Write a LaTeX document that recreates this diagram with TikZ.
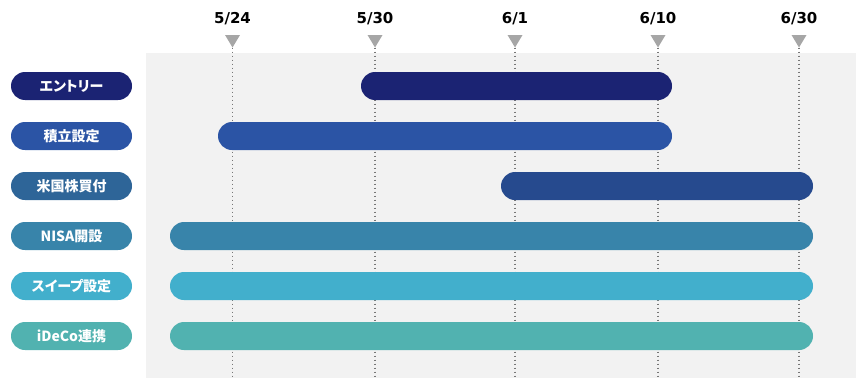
\documentclass[tikz,border=0pt]{standalone}
\usepackage{fontspec}
\setmainfont{DejaVu Sans}
\newfontfamily\jpfont[RawFeature=+palt]{Noto Sans CJK JP}
\usetikzlibrary{positioning,calc}
\usepackage{xcolor}
\definecolor{SchedBg}{HTML}{F2F2F2}
\definecolor{SchedTick}{HTML}{A6A6A6}
\definecolor{SchedGuide}{HTML}{777777}
\definecolor{SchedNavy}{HTML}{1B2373}
\definecolor{SchedRoyal}{HTML}{2B54A5}
\definecolor{SchedSteel}{HTML}{2E6598}
\definecolor{SchedSteelBar}{HTML}{264A8E}
\definecolor{SchedOcean}{HTML}{3884AA}
\definecolor{SchedSky}{HTML}{42AFCC}
\definecolor{SchedTeal}{HTML}{51B2B0}

\begin{document}
\begin{tikzpicture}[x=1pt,y=-1pt, every node/.style={inner sep=0pt,outer sep=0pt},
    datelabel/.style={font=\bfseries\fontsize{15}{15}\selectfont,anchor=base},
    pill/.style={rounded corners=14pt,minimum height=28pt,minimum width=121pt,text=white,font=\jpfont\bfseries\fontsize{14}{14}\selectfont},
    bar/.style={rounded corners=14pt,minimum height=28pt}]
    \useasboundingbox (0,0) rectangle (866,388);
    \fill[SchedBg] (146,53) rectangle (856,378);
    % date ticks
    \foreach \x/\t [count=\i] in {232.5/{5/24},375/{5/30},515/{6/1},658/{6/10},799/{6/30}}{
      \node[datelabel] (date\i) at (\x,23.3) {\t};
      \coordinate (tip\i) at (\x,47.5);
      \coordinate (foot\i) at (\x,378);
      \fill[SchedTick] (tip\i) -- ++(-7.5,-12.5) -- ++(15,0) -- cycle;
      \draw[SchedGuide,line width=1.8pt,dash pattern=on 1.8pt off 2.2pt] (tip\i) -- (foot\i);
    }
    % task rows
    \foreach \lab/\col/\barcol/\s/\e [count=\i] in {
        エントリー/SchedNavy/SchedNavy/361/672,
        積立設定/SchedRoyal/SchedRoyal/218/672,
        米国株買付/SchedSteel/SchedSteelBar/501/813,
        NISA開設/SchedOcean/SchedOcean/170/813,
        スイープ設定/SchedSky/SchedSky/170/813,
        iDeCo連携/SchedTeal/SchedTeal/170/813}{
      \pgfmathsetmacro{\y}{86+50*(\i-1)}
      \node[pill,fill=\col] (task\i) at (71.5,\y) {\lab};
      \node[bar,fill=\barcol,minimum width={\e-\s}] (span\i) at ({(\s+\e)/2},\y) {};
    }
  \end{tikzpicture}
\end{document}
